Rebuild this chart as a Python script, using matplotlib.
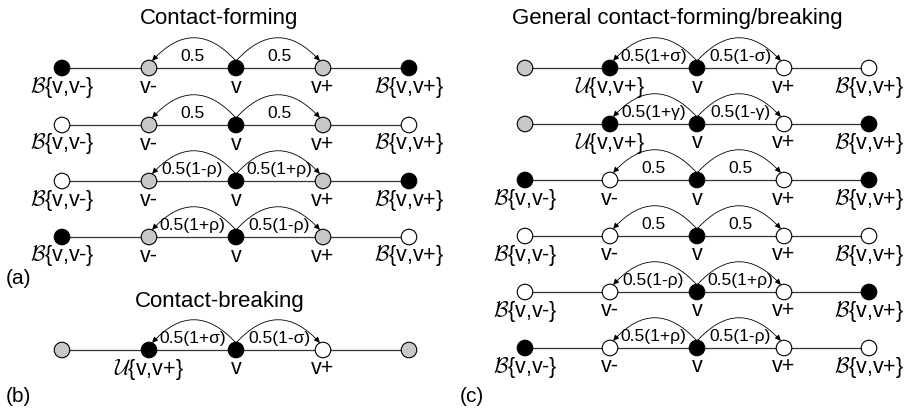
import matplotlib.pyplot as plt
from matplotlib.patches import FancyArrowPatch

plt.rcParams['font.family'] = ['Liberation Sans', 'DejaVu Sans']
plt.rcParams['mathtext.fontset'] = 'cm'

# node colours per row: k = black, g = gray, w = white
left_rows = [['k', 'g', 'k', 'g', 'k'],
             ['w', 'g', 'k', 'g', 'w'],
             ['w', 'g', 'k', 'g', 'k'],
             ['k', 'g', 'k', 'g', 'w']]
left_arcs = [('0.5', '0.5'), ('0.5', '0.5'),
             ('0.5(1-ρ)', '0.5(1+ρ)'), ('0.5(1+ρ)', '0.5(1-ρ)')]
break_row = ['g', 'k', 'k', 'w', 'g']
break_arcs = ('0.5(1+σ)', '0.5(1-σ)')
right_rows = [['g', 'k', 'k', 'w', 'w'],
              ['g', 'k', 'k', 'w', 'k'],
              ['k', 'w', 'k', 'w', 'k'],
              ['w', 'w', 'k', 'w', 'w'],
              ['w', 'w', 'k', 'w', 'k'],
              ['k', 'w', 'k', 'w', 'w']]
right_arcs = [('0.5(1+σ)', '0.5(1-σ)'), ('0.5(1+γ)', '0.5(1-γ)'),
              ('0.5', '0.5'), ('0.5', '0.5'),
              ('0.5(1-ρ)', '0.5(1+ρ)'), ('0.5(1+ρ)', '0.5(1-ρ)')]

B = r'$\mathcal{B}$'
U = r'$\mathcal{U}$'
lab_B = [B + '{v,v-}', 'v-', 'v', 'v+', B + '{v,v+}']
lab_U = [U + '{v,v+}', 'v', 'v+', B + '{v,v+}']
break_labels = ['', U + '{v,v+}', 'v', 'v+', '']
right_labels = [[''] + lab_U, [''] + lab_U] + [lab_B] * 4

colors = {'k': 'black', 'g': '#c8c8c8', 'w': 'white'}

fig = plt.figure(figsize=(9.05, 4.12), dpi=100)
ax = fig.add_axes([0, 0, 1, 1])
ax.set_xlim(0, 905)
ax.set_ylim(412, 0)
ax.axis('off')

left_x = [62, 149, 236, 323, 409]
right_x = [525, 610, 697, 784, 869]


def draw_row(xs, y, cols, labels, arcs):
    ax.plot([xs[0], xs[-1]], [y, y], color='#333333', lw=0.9, zorder=1)
    ax.scatter(xs, [y] * 5, s=125, c=[colors[c] for c in cols],
               edgecolors='black', linewidths=0.8, zorder=3)
    for x, t in zip(xs, labels):
        if t:
            ax.text(x, y + 19, t, ha='center', va='center', fontsize=15.5)
    for j, (nb, txt) in enumerate(zip([xs[1], xs[3]], arcs)):
        rad = 0.55 if j == 0 else -0.55
        end = (nb + (3 if j == 0 else -3), y - 7)
        arr = FancyArrowPatch((xs[2], y - 7), end,
                              connectionstyle='arc3,rad=%f' % rad,
                              arrowstyle='-|>,head_length=3.5,head_width=1.6',
                              color='black', lw=0.6, shrinkA=0, shrinkB=0,
                              zorder=2)
        ax.add_patch(arr)
        ax.text((xs[2] + nb) / 2, y - 12, txt, ha='center', va='center',
                fontsize=12.5)


left_y = [68, 125, 181, 237]
for y, cols, arcs in zip(left_y, left_rows, left_arcs):
    draw_row(left_x, y, cols, lab_B, arcs)
draw_row(left_x, 350, break_row, break_labels, break_arcs)

right_y = [68, 124, 180, 236, 292, 348]
for y, cols, labs, arcs in zip(right_y, right_rows, right_labels, right_arcs):
    draw_row(right_x, y, cols, labs, arcs)

ax.text(219, 18, 'Contact-forming', ha='center', va='center', fontsize=16)
ax.text(220, 302, 'Contact-breaking', ha='center', va='center', fontsize=16)
ax.text(677, 18, 'General contact-forming/breaking', ha='center', va='center',
        fontsize=16)
ax.text(6, 279, '(a)', ha='left', va='center', fontsize=15)
ax.text(6, 396, '(b)', ha='left', va='center', fontsize=15)
ax.text(460, 396, '(c)', ha='left', va='center', fontsize=15)

fig.savefig('out.png', dpi=100)
